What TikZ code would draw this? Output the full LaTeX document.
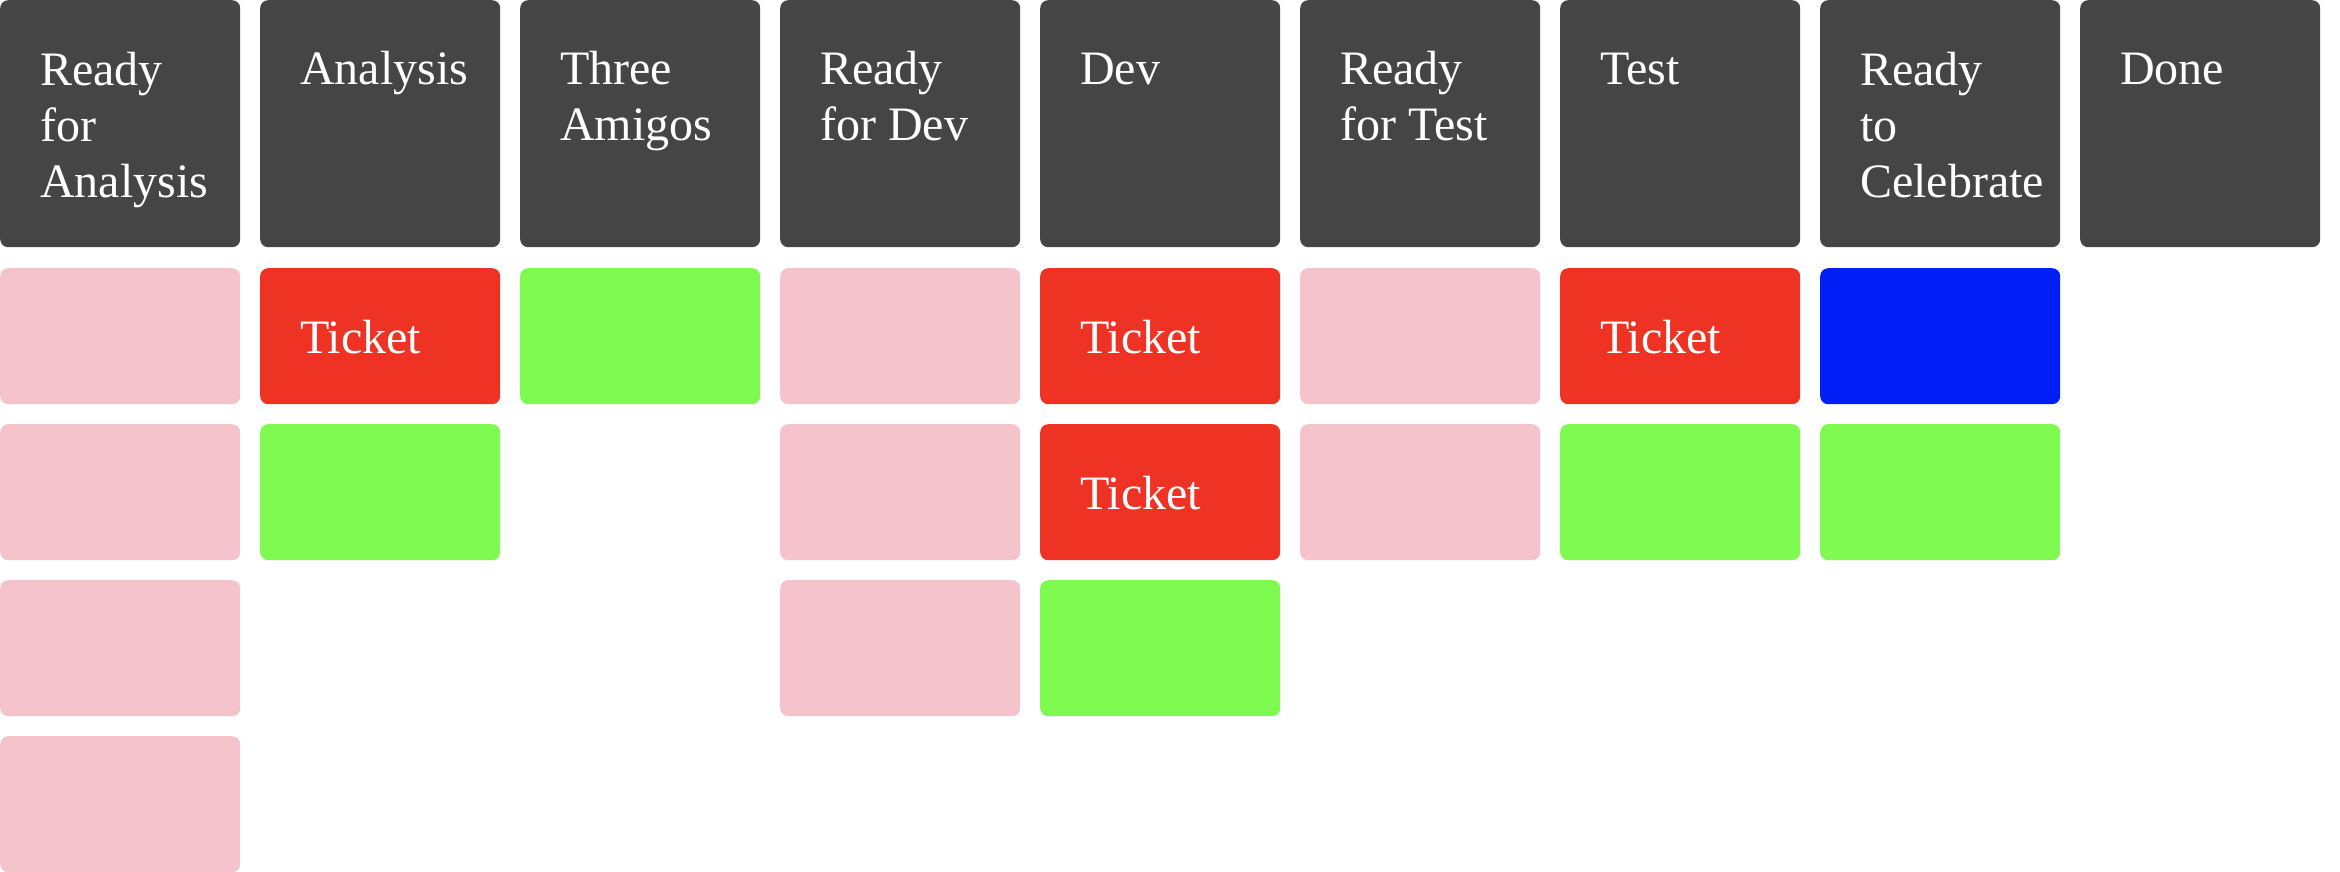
\documentclass[tikz,border=0pt]{standalone}
\usepackage{fontspec}
\setmainfont{Liberation Serif}
\definecolor{hdr}{HTML}{454545}
\definecolor{cpink}{HTML}{F5C3CB}
\definecolor{cred}{HTML}{EE3325}
\definecolor{cgreen}{HTML}{7FFA50}
\definecolor{cblue}{HTML}{001EF5}
\begin{document}
\begin{tikzpicture}[x=1pt,y=-1pt,
  box/.style={rectangle, rounded corners=8pt, inner sep=0pt, minimum width=240pt, anchor=north west, draw=none},
  colhead/.style={box, fill=hdr, minimum height=247pt},
  card/.style={box, minimum height=136pt},
  pinkcard/.style={card, fill=cpink},
  redcard/.style={card, fill=cred},
  greencard/.style={card, fill=cgreen},
  bluecard/.style={card, fill=cblue},
  lbl/.style={anchor=base west, inner sep=0pt, text=white, align=left, font=\fontsize{48}{56}\selectfont}]
\useasboundingbox (0,0) rectangle (2340,872);

% column headers (label anchored at baseline of last line; first baseline at y=85)
\node[colhead] (h0) at (0,0) {};
\node[colhead] (h1) at (260,0) {};
\node[colhead] (h2) at (520,0) {};
\node[colhead] (h3) at (780,0) {};
\node[colhead] (h4) at (1040,0) {};
\node[colhead] (h5) at (1300,0) {};
\node[colhead] (h6) at (1560,0) {};
\node[colhead] (h7) at (1820,0) {};
\node[colhead] (h8) at (2080,0) {};
\node[lbl] (h0t) at (40,197) {Ready\\for\\Analysis};
\node[lbl] (h1t) at (300,85) {Analysis};
\node[lbl] (h2t) at (560,141) {Three\\Amigos};
\node[lbl] (h3t) at (820,141) {Ready\\for Dev};
\node[lbl] (h4t) at (1080,85) {Dev};
\node[lbl] (h5t) at (1340,141) {Ready\\for Test};
\node[lbl] (h6t) at (1600,85) {Test};
\node[lbl] (h7t) at (1860,197) {Ready\\to\\Celebrate};
\node[lbl] (h8t) at (2120,85) {Done};

% Ready for Analysis
\node[pinkcard] (c0a) at (0,268) {};
\node[pinkcard] (c0b) at (0,424) {};
\node[pinkcard] (c0c) at (0,580) {};
\node[pinkcard] (c0d) at (0,736) {};
% Analysis
\node[redcard] (c1a) at (260,268) {};
\node[lbl] (c1at) at (300,353) {Ticket};
\node[greencard] (c1b) at (260,424) {};
% Three Amigos
\node[greencard] (c2a) at (520,268) {};
% Ready for Dev
\node[pinkcard] (c3a) at (780,268) {};
\node[pinkcard] (c3b) at (780,424) {};
\node[pinkcard] (c3c) at (780,580) {};
% Dev
\node[redcard] (c4a) at (1040,268) {};
\node[lbl] (c4at) at (1080,353) {Ticket};
\node[redcard] (c4b) at (1040,424) {};
\node[lbl] (c4bt) at (1080,509) {Ticket};
\node[greencard] (c4c) at (1040,580) {};
% Ready for Test
\node[pinkcard] (c5a) at (1300,268) {};
\node[pinkcard] (c5b) at (1300,424) {};
% Test
\node[redcard] (c6a) at (1560,268) {};
\node[lbl] (c6at) at (1600,353) {Ticket};
\node[greencard] (c6b) at (1560,424) {};
% Ready to Celebrate
\node[bluecard] (c7a) at (1820,268) {};
\node[greencard] (c7b) at (1820,424) {};
\end{tikzpicture}
\end{document}
